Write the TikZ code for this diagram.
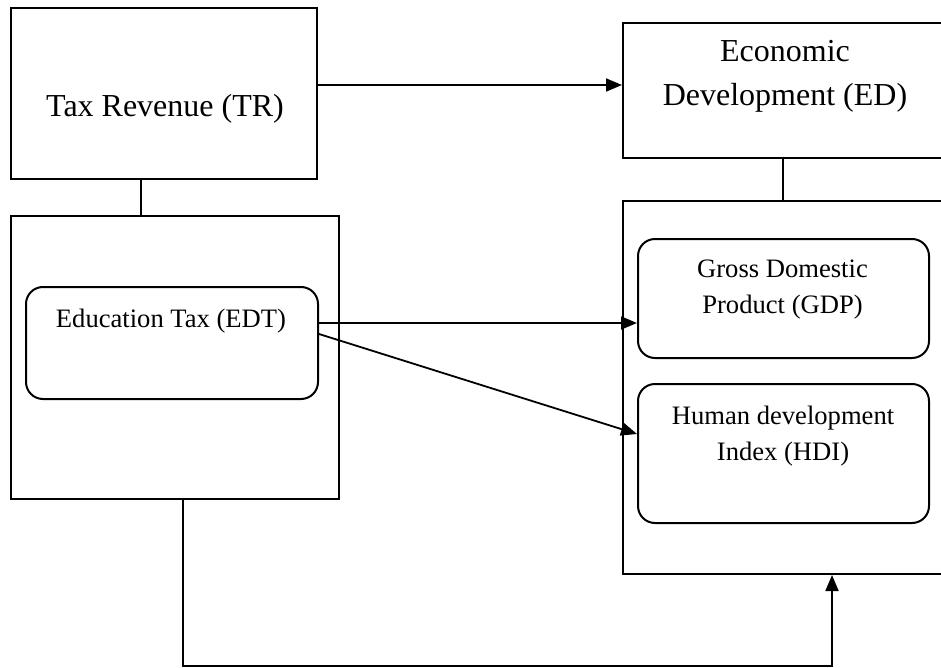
\documentclass[tikz,border=0pt]{standalone}
\usepackage{fontspec}
\setmainfont{Liberation Serif}
\usetikzlibrary{arrows.meta,calc}
\begin{document}
\begin{tikzpicture}[x=1pt,y=-1pt,
  box/.style={draw,line width=2pt,rectangle,inner sep=0pt,anchor=north west},
  rbox/.style={box,rounded corners=17pt},
  big/.style={font=\fontsize{32}{44}\selectfont,align=center,inner sep=0pt,anchor=base},
  small/.style={font=\fontsize{26.6}{36}\selectfont,align=center,inner sep=0pt,anchor=base},
  conn/.style={line width=1.8pt},
  arr/.style={conn,-{Triangle[length=16pt,width=13pt]}}]
\useasboundingbox (0,0) rectangle (941,668);
\fill[white] (0,0) rectangle (941,668);
% boxes
\node[box,minimum width=306pt,minimum height=171pt] (tr) at (10,7) {};
\node[box,minimum width=340pt,minimum height=135pt] (ed) at (622,22) {};
\node[box,minimum width=328pt,minimum height=283pt] (left) at (10,215) {};
\node[box,minimum width=340pt,minimum height=373pt] (right) at (622,200) {};
\node[rbox,minimum width=292pt,minimum height=112pt] (edt) at (25,286) {};
\node[rbox,minimum width=291pt,minimum height=119pt] (gdp) at (637,238) {};
\node[rbox,minimum width=291pt,minimum height=139pt] (hdi) at (637,383) {};
% texts
\node[big] (trt) at (165,117) {Tax Revenue (TR)};
\node[big] (edtx) at (785,106) {Economic\\Development (ED)};
\node[small] (edtt) at (171,327) {Education Tax (EDT)};
\node[small] (gdpt) at (782.5,313) {Gross Domestic\\Product (GDP)};
\node[small] (hdit) at (783,460) {Human development\\Index (HDI)};
% connectors
\coordinate (trout) at ([yshift=8.5pt]tr.east);
\draw[arr] (trout) -- (trout -| ed.west);
\coordinate (trdown) at ([xshift=-23pt]tr.south);
\draw[conn] (trdown) -- (trdown |- left.north);
\coordinate (eddown) at ([xshift=-10pt]ed.south);
\draw[conn] (eddown) -- (eddown |- right.north);
\coordinate (edtout1) at ([yshift=20pt]edt.east);
\coordinate (edtout2) at ([yshift=9pt]edt.east);
\draw[arr] (edtout1) -- (edtout1 -| gdp.west);
\coordinate (hdiin) at ([yshift=19.5pt]hdi.west);
\draw[arr] (edtout2) -- (hdiin);
\coordinate (lbot) at ([xshift=8pt]left.south);
\coordinate (rbot) at ([xshift=210pt]right.south west);
\coordinate (corner) at (0,666);
\draw[arr] (lbot) -- (lbot |- corner) -- (rbot |- corner) -- (rbot);
\end{tikzpicture}
\end{document}
